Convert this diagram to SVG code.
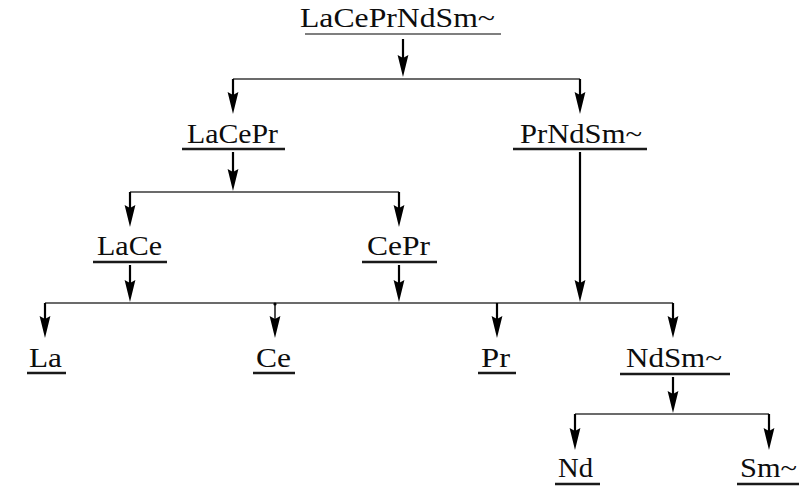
<svg xmlns="http://www.w3.org/2000/svg" width="799" height="487" viewBox="0 0 799 487">
  <style>
    .lbl { font-family: "Liberation Serif", "Times New Roman", serif; font-size: 27px; fill: #0d0d0d; }
    .ul { stroke: #1a1a1a; stroke-width: 2.4; }
    .ul-top { stroke: #555; stroke-width: 1.5; }
    .bus { stroke: #3a3a3a; stroke-width: 1.6; fill: none; }
    .drop { stroke: #000; stroke-width: 2.2; fill: none; marker-end: url(#arrow); }
  </style>
  <defs>
    <!-- slim dart head; the stem stops 10px short of the tip -->
    <marker id="arrow" markerUnits="userSpaceOnUse" markerWidth="22" markerHeight="12" viewBox="0 0 22 12" refX="12" refY="6" orient="auto">
      <path d="M0,0.6 L22,6 L0,11.4 L3,6 Z" fill="#000"/>
    </marker>
  </defs>

  <rect width="799" height="487" fill="#fff"/>

  <!-- feed -->
  <g id="n-lacepndsm">
    <text class="lbl" x="300" y="27" textLength="195" lengthAdjust="spacingAndGlyphs">LaCePrNdSm~</text>
    <line class="ul-top" x1="305" y1="34" x2="501" y2="34"/>
  </g>

  <!-- second stage -->
  <g id="n-lacepr">
    <text class="lbl" x="187" y="143" textLength="91" lengthAdjust="spacingAndGlyphs">LaCePr</text>
    <line class="ul" x1="182" y1="149" x2="285" y2="149"/>
  </g>
  <g id="n-prndsm">
    <text class="lbl" x="520" y="143" textLength="122" lengthAdjust="spacingAndGlyphs">PrNdSm~</text>
    <line class="ul" x1="513" y1="149" x2="647" y2="149"/>
  </g>

  <!-- third stage -->
  <g id="n-lace">
    <text class="lbl" x="97" y="255" textLength="65" lengthAdjust="spacingAndGlyphs">LaCe</text>
    <line class="ul" x1="93" y1="262" x2="167" y2="262"/>
  </g>
  <g id="n-cepr">
    <text class="lbl" x="367" y="255" textLength="63" lengthAdjust="spacingAndGlyphs">CePr</text>
    <line class="ul" x1="362" y1="262" x2="437" y2="262"/>
  </g>

  <!-- products -->
  <g id="n-la">
    <text class="lbl" x="29" y="367" textLength="33" lengthAdjust="spacingAndGlyphs">La</text>
    <line class="ul" x1="27" y1="373" x2="66" y2="373"/>
  </g>
  <g id="n-ce">
    <text class="lbl" x="256" y="367" textLength="35" lengthAdjust="spacingAndGlyphs">Ce</text>
    <line class="ul" x1="253" y1="373" x2="295" y2="373"/>
  </g>
  <g id="n-pr">
    <text class="lbl" x="481" y="367" textLength="29" lengthAdjust="spacingAndGlyphs">Pr</text>
    <line class="ul" x1="478" y1="373" x2="516" y2="373"/>
  </g>
  <g id="n-ndsm">
    <text class="lbl" x="626" y="367" textLength="96" lengthAdjust="spacingAndGlyphs">NdSm~</text>
    <line class="ul" x1="620" y1="374" x2="730" y2="374"/>
  </g>
  <g id="n-nd">
    <text class="lbl" x="558" y="477" textLength="35" lengthAdjust="spacingAndGlyphs">Nd</text>
    <line class="ul" x1="555" y1="484" x2="600" y2="484"/>
  </g>
  <g id="n-sm">
    <text class="lbl" x="740" y="477" textLength="57" lengthAdjust="spacingAndGlyphs">Sm~</text>
    <line class="ul" x1="737" y1="484" x2="799" y2="484"/>
  </g>

  <g id="connectors">
    <!-- horizontal buses -->
    <line class="bus" x1="233" y1="79" x2="580" y2="79"/>
    <line class="bus" x1="130" y1="192" x2="399" y2="192"/>
    <line class="bus" x1="45" y1="303" x2="673" y2="303"/>
    <line class="bus" x1="575" y1="414" x2="769" y2="414"/>

    <!-- feeds into buses -->
    <line class="drop" x1="403" y1="39" x2="403" y2="67"/>
    <line class="drop" x1="233" y1="152" x2="233" y2="181"/>
    <line class="drop" x1="130" y1="265" x2="130" y2="292"/>
    <line class="drop" x1="399" y1="265" x2="399" y2="292"/>
    <line class="drop" x1="580" y1="152" x2="580" y2="292"/>
    <line class="drop" x1="673" y1="377" x2="673" y2="403"/>

    <!-- drops to products -->
    <line class="drop" x1="233" y1="79" x2="233" y2="104"/>
    <line class="drop" x1="580" y1="79" x2="580" y2="104"/>
    <line class="drop" x1="130" y1="192" x2="130" y2="217"/>
    <line class="drop" x1="399" y1="192" x2="399" y2="217"/>
    <line class="drop" x1="45" y1="303" x2="45" y2="328"/>
    <line class="drop" x1="275" y1="303" x2="275" y2="328" style="stroke-width:1.4"/>
    <circle cx="275" cy="304" r="1.6" fill="#000"/>
    <line class="drop" x1="497" y1="303" x2="497" y2="328"/>
    <line class="drop" x1="673" y1="303" x2="673" y2="328"/>
    <line class="drop" x1="575" y1="414" x2="575" y2="440"/>
    <line class="drop" x1="769" y1="414" x2="769" y2="440"/>
  </g>
</svg>
